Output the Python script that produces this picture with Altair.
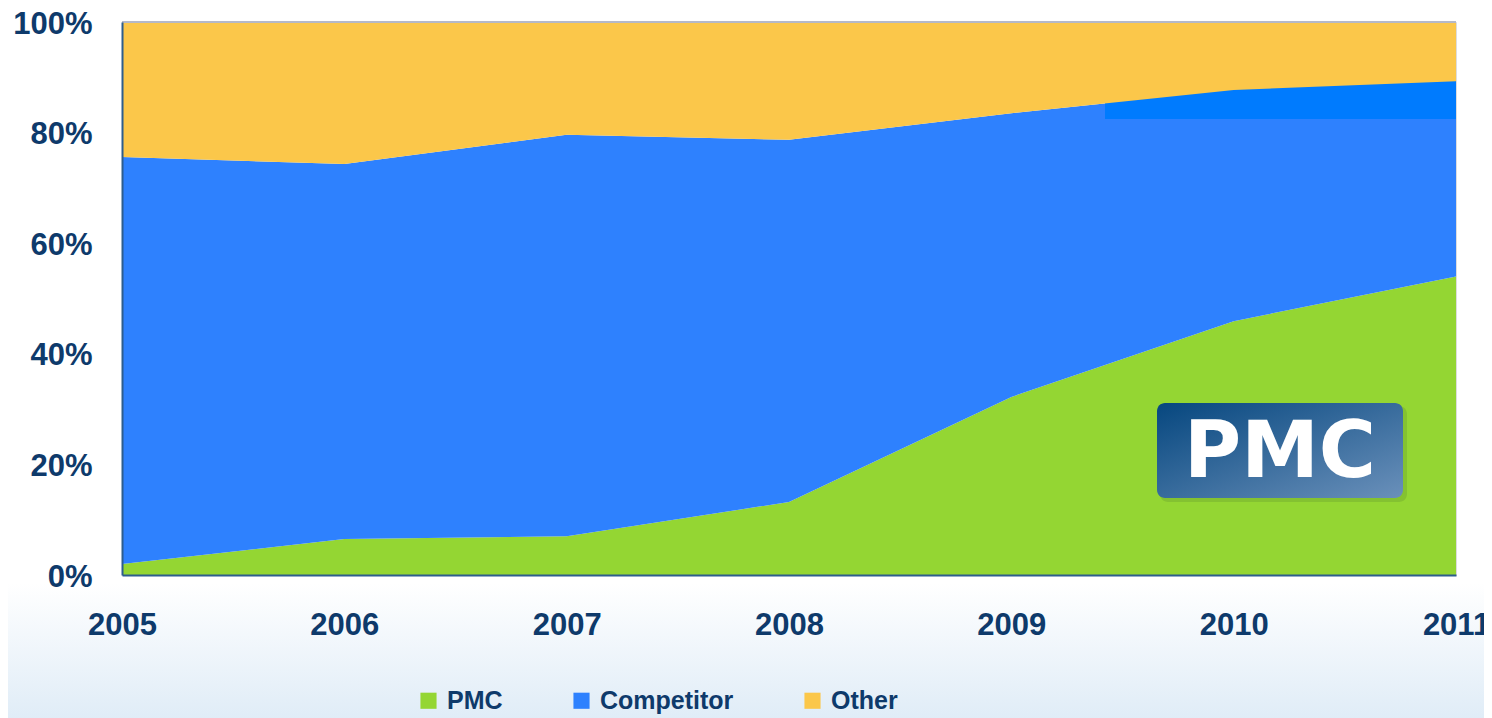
import altair as alt
import pandas as pd

years = [2005, 2006, 2007, 2008, 2009, 2010, 2011]
series = ["PMC", "Competitor", "Other"]
pmc = [2.0, 6.5, 7.0, 13.2, 32.2, 45.9, 54.0]
competitor = [73.6, 67.8, 72.6, 65.5, 51.3, 41.8, 35.3]
other = [24.4, 25.7, 20.4, 21.3, 16.5, 12.3, 10.7]
y_ticks = [0, 20, 40, 60, 80, 100]
colors = ["#94D633", "#2E81FE", "#FBC74A"]

rows = []
for i, yr in enumerate(years):
    lo = 0.0
    for name, vals in zip(series, [pmc, competitor, other]):
        hi = lo + vals[i]
        rows.append({"year": yr, "series": name, "lo": lo, "hi": hi})
        lo = hi
df = pd.DataFrame(rows)

W, H = 1334, 553
NAVY = "#0E3A6B"

x_enc = alt.X("year:Q", scale=alt.Scale(domain=[2005, 2011], nice=False),
              axis=alt.Axis(values=years, format="d", title=None, ticks=False, grid=False,
                            labelPadding=35, labelFontSize=31, labelFont="Liberation Sans",
                            labelFontWeight="bold", labelColor=NAVY, domainColor="#2D5D8D",
                            domainWidth=2, labelFlush=False, zindex=2))
y_enc = alt.Y("lo:Q", stack=None, scale=alt.Scale(domain=[0, 100], nice=False),
              axis=alt.Axis(values=y_ticks, labelExpr="datum.value + '%'", title=None,
                            ticks=False, grid=False, labelPadding=30, labelFontSize=31,
                            labelFont="Liberation Sans", labelFontWeight="bold",
                            labelColor=NAVY, domainColor="#2D5D8D", domainWidth=2,
                            labelFlush=False, labelOffset=2, zindex=2))
color_scale = alt.Scale(domain=series, range=colors)
color_enc = alt.Color("series:N", scale=color_scale,
                      legend=alt.Legend(title=None, orient="none", direction="horizontal",
                                        legendX=294, legendY=666, symbolType="square",
                                        symbolSize=260, symbolStrokeWidth=0,
                                        labelFont="Liberation Sans", labelFontSize=25,
                                        labelFontWeight="bold", labelColor=NAVY,
                                        labelOffset=6, columnPadding=66, padding=0))

bg = alt.Chart(alt.Data(values=[{}])).mark_rect(
    color=alt.Gradient(gradient="linear", x1=0, x2=0, y1=0, y2=1,
                       stops=[alt.GradientStop(offset=0, color="#FFFFFF"),
                              alt.GradientStop(offset=1, color="#DCEAF6")])
).encode(x=alt.value(-130), x2=alt.value(W + 40), y=alt.value(H + 8), y2=alt.value(H + 160))

base = alt.Chart(df)
lower = base.transform_filter(alt.datum.series != "Other").mark_area(opacity=1).encode(
    x=x_enc, y=y_enc, y2="hi:Q", color=color_enc)

patch = alt.Chart(alt.Data(values=[{}])).mark_rect(color="#007BFE").encode(
    x=alt.value(983), x2=alt.value(W), y=alt.value(0), y2=alt.value(97))

upper = base.transform_filter(alt.datum.series == "Other").mark_area(opacity=1).encode(
    x="year:Q", y=alt.Y("lo:Q", stack=None), y2="hi:Q",
    color=alt.Color("series:N", scale=color_scale))

top_rule = alt.Chart(alt.Data(values=[{}])).mark_rule(color="#B5B9C8", strokeWidth=2).encode(
    x=alt.value(0), x2=alt.value(W), y=alt.value(0))

logo_shadow = alt.Chart(alt.Data(values=[{}])).mark_rect(
    cornerRadius=8, color="#3F6A2A", opacity=0.18
).encode(x=alt.value(1038), x2=alt.value(1285), y=alt.value(384), y2=alt.value(480))

logo_box = alt.Chart(alt.Data(values=[{}])).mark_rect(
    cornerRadius=8,
    color=alt.Gradient(gradient="linear", x1=0, x2=1, y1=0, y2=1,
                       stops=[alt.GradientStop(offset=0, color="#06477F"),
                              alt.GradientStop(offset=1, color="#6A90BA")])
).encode(x=alt.value(1035), x2=alt.value(1281), y=alt.value(381), y2=alt.value(476))

logo_text = alt.Chart(alt.Data(values=[{"t": "PMC"}])).mark_text(
    font="DejaVu Sans", fontWeight="bold", fontSize=78, color="white",
    align="center", baseline="middle"
).encode(x=alt.value(1158), y=alt.value(432), text="t:N")

chart = alt.layer(bg, lower, patch, upper, top_rule, logo_shadow, logo_box, logo_text).properties(
    width=W, height=H,
    autosize=alt.AutoSizeParams(type="none"),
    padding={"left": 114, "top": 14, "right": 28, "bottom": 150},
).configure_view(stroke=None).configure(background="white")

chart.save("out.html", embed_options={"renderer": "svg", "actions": False})
